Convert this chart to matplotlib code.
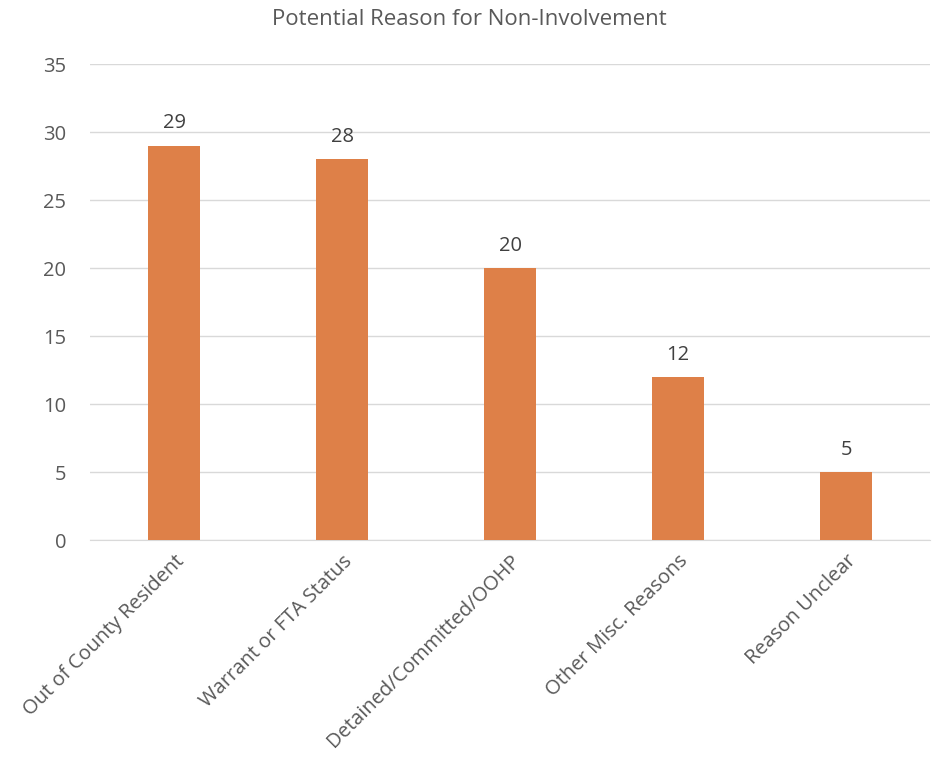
import matplotlib
matplotlib.use('Agg')
import matplotlib.pyplot as plt

plt.rcParams['font.family'] = ['Open Sans', 'DejaVu Sans']

categories = ['Out of County Resident', 'Warrant or FTA Status', 'Detained/Committed/OOHP',
              'Other Misc. Reasons', 'Reason Unclear']
values = [29, 28, 20, 12, 5]
yticks = [0, 5, 10, 15, 20, 25, 30, 35]

text_color = '#595959'
bar_color = '#DE8048'

fig = plt.figure(figsize=(9.38, 7.59), dpi=100)
ax = fig.add_axes([0.096, 0.2885, 0.8955, 0.6271])

x = range(len(categories))
bars = ax.bar(x, values, width=0.31, color=bar_color, zorder=3)
for xi, v in zip(x, values):
    ax.text(xi, v + 0.9, str(v), ha='center', va='bottom', fontsize=14.5, color='#404040')

ax.set_xlim(-0.5, len(categories) - 0.5)
ax.set_ylim(0, 35)
ax.set_yticks(yticks)
ax.yaxis.grid(True, color='#D9D9D9', linewidth=1, zorder=0)
for s in ['top', 'right', 'left']:
    ax.spines[s].set_visible(False)
ax.spines['bottom'].set_color('#D9D9D9')
ax.tick_params(axis='both', length=0, labelsize=14.5, colors=text_color)
ax.tick_params(axis='y', pad=17)
ax.set_xticks(list(x))
ax.set_xticklabels(categories, rotation=45, ha='right', rotation_mode='anchor')
ax.tick_params(axis='x', pad=8)

fig.text(0.5, 0.974, 'Potential Reason for Non-Involvement', ha='center', va='center',
         fontsize=16, color=text_color)

fig.savefig('out.png', dpi=100)
